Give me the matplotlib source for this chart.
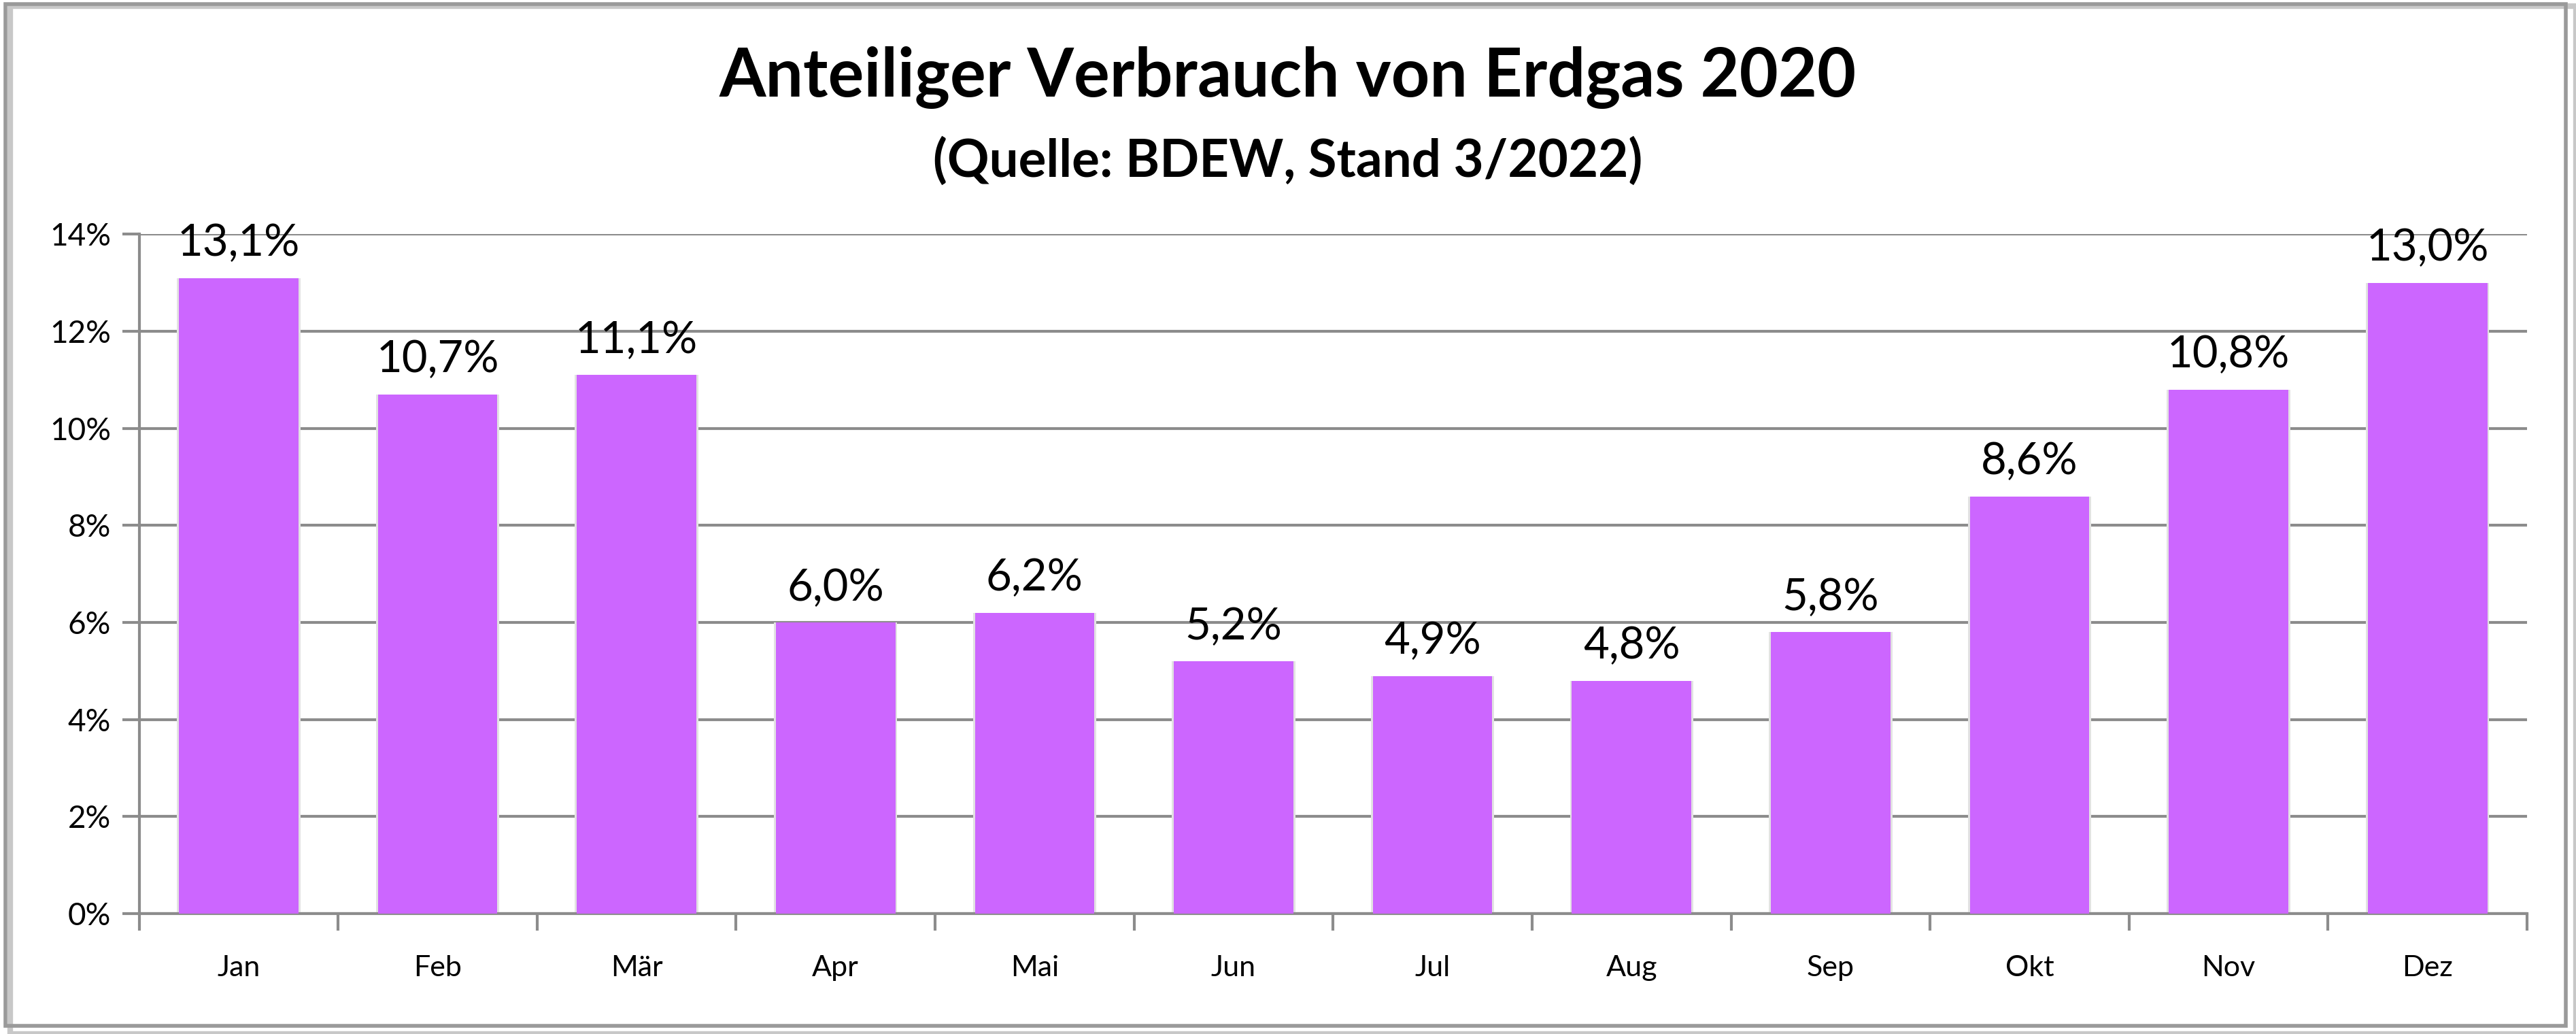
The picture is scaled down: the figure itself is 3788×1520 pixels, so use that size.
import matplotlib
matplotlib.use("Agg")
import matplotlib.pyplot as plt
from matplotlib.patches import Rectangle
from matplotlib.ticker import FixedLocator, FuncFormatter

months = ["Jan", "Feb", "Mär", "Apr", "Mai", "Jun", "Jul", "Aug", "Sep", "Okt", "Nov", "Dez"]
shares = [13.1, 10.7, 11.1, 6.0, 6.2, 5.2, 4.9, 4.8, 5.8, 8.6, 10.8, 13.0]
y_ticks = [0, 2, 4, 6, 8, 10, 12, 14]

title = "Anteiliger Verbrauch von Erdgas 2020"
subtitle = "(Quelle: BDEW, Stand 3/2022)"

plt.rcParams["font.family"] = ["Lato", "DejaVu Sans"]
GRID = "#8c8c8c"
BAR = "#cc66ff"

fig = plt.figure(figsize=(18.94, 7.6), dpi=200)
ax = fig.add_axes([0.054, 0.1164, 0.927, 0.657])

x = list(range(len(months)))
# soft shadow around bars
ax.bar(x, shares, width=0.62, color="#e2e2e2", zorder=2)
ax.bar(x, shares, width=0.6, color=BAR, zorder=3)

for i, v in zip(x, shares):
    ax.text(i, v + 0.3, f"{v:.1f}%".replace(".", ","), ha="center", va="bottom",
            fontsize=23.5, zorder=4)

ax.set_xlim(-0.5, len(months) - 0.5)
ax.set_ylim(0, 14)
ax.yaxis.set_major_locator(FixedLocator(y_ticks))
ax.yaxis.set_major_formatter(FuncFormatter(lambda v, _: f"{v:.0f}%"))
ax.grid(axis="y", color=GRID, linewidth=1.5, zorder=1)

ax.set_xticks(x)
ax.set_xticklabels(months, fontsize=15.5)
ax.xaxis.set_minor_locator(FixedLocator([i - 0.5 for i in range(len(months) + 1)]))
ax.tick_params(axis="x", which="major", length=0, pad=22)
ax.tick_params(axis="x", which="minor", length=9, width=1.5, color=GRID)
ax.tick_params(axis="y", length=9, width=1.5, color=GRID, labelsize=16.5, pad=6)

for side in ["top", "right"]:
    ax.spines[side].set_visible(False)
for side in ["left", "bottom"]:
    ax.spines[side].set_color(GRID)
    ax.spines[side].set_linewidth(1.5)

fig.text(0.5, 0.925, title, ha="center", va="center", fontsize=35.5, fontweight="bold")
fig.text(0.5, 0.844, subtitle, ha="center", va="center", fontsize=27.5, fontweight="bold")

# outer frame with drop shadow
fig.patches.append(Rectangle((0.004, 0.0), 0.996, 0.994, transform=fig.transFigure,
                             facecolor="none", edgecolor="#c8c8c8", linewidth=3, zorder=0))
fig.patches.append(Rectangle((0.002, 0.008), 0.994, 0.988, transform=fig.transFigure,
                             facecolor="none", edgecolor="#9a9a9a", linewidth=2, zorder=1))

fig.savefig("out.png", dpi=200, facecolor="white")
